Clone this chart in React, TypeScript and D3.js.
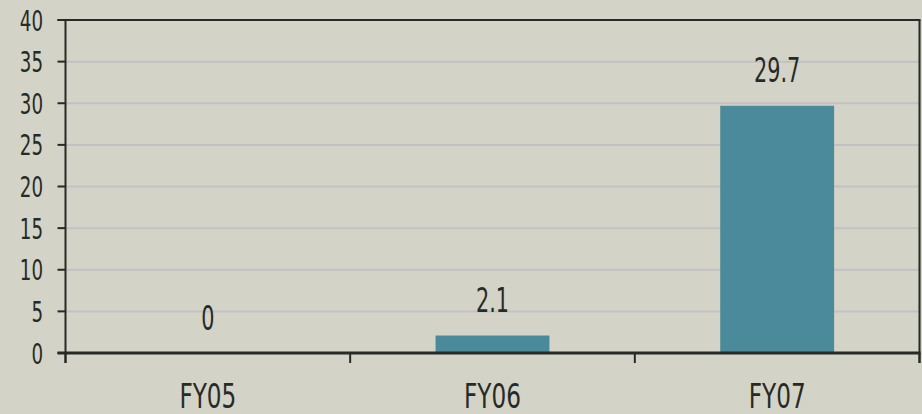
import React from "react";
import * as d3 from "d3";

const categories: string[] = ["FY05", "FY06", "FY07"];
const values: number[] = [0, 2.1, 29.7];
const valueLabels: string[] = ["0", "2.1", "29.7"];
const yTicks: number[] = [0, 5, 10, 15, 20, 25, 30, 35, 40];

const W = 922;
const H = 414;
const left = 65.5;
const right = 919.5;
const top = 20;
const bottom = 353;
const FONT = "'DejaVu Sans Condensed', 'DejaVu Sans', sans-serif";
const BG = "#d3d3c7";
const AXIS = "#272b25";
const GRID = "#c3c1c3";
const BAR = "#4a8a9b";

function CText(props: { x: number; y: number; size: number; sx: number; anchor: string; children: React.ReactNode }) {
  return (
    <text
      transform={`translate(${props.x},${props.y}) scale(${props.sx},1)`}
      textAnchor={props.anchor}
      fontFamily={FONT}
      fontSize={props.size}
      fill={AXIS}
    >
      {props.children}
    </text>
  );
}

export default function App() {
  const x = d3.scaleBand<string>().domain(categories).range([left, right]).padding(0);
  const y = d3.scaleLinear().domain([0, 40]).range([bottom, top]);
  const bw = x.bandwidth() * 0.4;
  const boundaries = d3.range(categories.length + 1).map((i) => left + i * x.step());

  return (
    <svg
      width={W}
      height={H}
      style={{ position: "absolute", left: 0, top: 0, display: "block" }}
    >
      <rect x={0} y={0} width={W} height={H} fill={BG} />
      {yTicks.filter((t) => t !== 0 && t !== 40).map((t) => (
        <line key={"g" + t} x1={left} x2={right} y1={y(t)} y2={y(t)} stroke={GRID} strokeWidth={2} />
      ))}
      {categories.map((c, i) => (
        <rect
          key={"b" + c}
          x={x(c)! + (x.bandwidth() - bw) / 2}
          y={y(values[i])}
          width={bw}
          height={y(0) - y(values[i])}
          fill={BAR}
        />
      ))}
      <line x1={left - 8} x2={right + 1} y1={y(40)} y2={y(40)} stroke={AXIS} strokeWidth={2} />
      <line x1={right} x2={right} y1={top} y2={bottom + 10} stroke={AXIS} strokeWidth={2} />
      <line x1={left} x2={left} y1={top} y2={bottom + 10} stroke={AXIS} strokeWidth={2} />
      {yTicks.map((t) => (
        <g key={"t" + t}>
          <line x1={left - 8} x2={left} y1={y(t)} y2={y(t)} stroke={AXIS} strokeWidth={2} />
          <CText x={43} y={y(t) + 10.5} size={29} sx={0.7} anchor="end">
            {t}
          </CText>
        </g>
      ))}
      <line x1={left - 8} x2={right + 1} y1={y(0)} y2={y(0)} stroke={AXIS} strokeWidth={3} />
      {boundaries.map((bx, i) => (
        <line key={"xt" + i} x1={bx} x2={bx} y1={bottom} y2={bottom + 10} stroke={AXIS} strokeWidth={2} />
      ))}
      {categories.map((c) => (
        <CText key={"c" + c} x={x(c)! + x.bandwidth() / 2} y={408} size={33} sx={0.78} anchor="middle">
          {c}
        </CText>
      ))}
      {categories.map((c, i) => (
        <CText key={"v" + c} x={x(c)! + x.bandwidth() / 2} y={y(values[i]) - 23.5} size={33} sx={0.7} anchor="middle">
          {valueLabels[i]}
        </CText>
      ))}
    </svg>
  );
}
